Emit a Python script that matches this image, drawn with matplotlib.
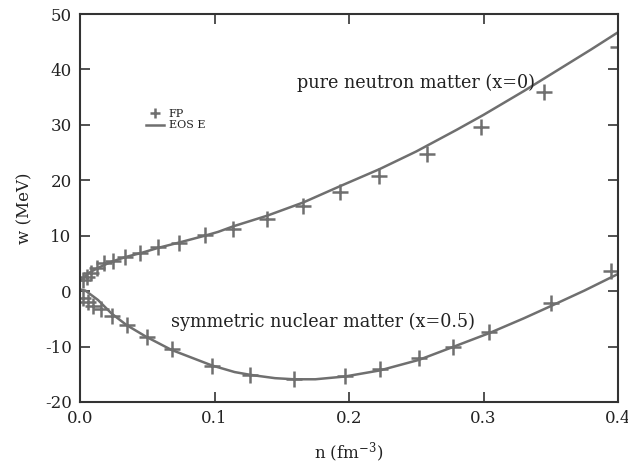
import matplotlib
matplotlib.use("Agg")
import matplotlib.pyplot as plt

# FP data: pure neutron matter
pnm_n = [0.0025, 0.005, 0.0082, 0.0124, 0.018, 0.0248, 0.0337, 0.0447, 0.0583, 0.0739,
         0.0926, 0.114, 0.139, 0.166, 0.193, 0.2226, 0.258, 0.298, 0.345, 0.4]
pnm_w = [2.0, 2.6, 3.3, 4.1, 5.0, 5.4, 6.2, 6.9, 7.9, 8.7,
         10.1, 11.2, 13.1, 15.3, 17.8, 20.8, 24.7, 29.6, 36.0, 44.1]
# FP data: symmetric nuclear matter
snm_n = [0.0025, 0.0062, 0.0099, 0.0156, 0.0236, 0.0347, 0.0496, 0.0683, 0.098, 0.1266,
         0.159, 0.197, 0.223, 0.252, 0.277, 0.304, 0.35, 0.3946]
snm_w = [-1.3, -1.9, -2.7, -3.3, -4.5, -6.1, -8.2, -10.5, -13.5, -15.2,
         -15.9, -15.3, -14.1, -12.1, -10.0, -7.3, -2.2, 3.7]

# EOS E curves
eos_pnm_n = [0.001, 0.006, 0.0134, 0.0233, 0.0345, 0.0457, 0.058, 0.0742, 0.0928, 0.1028,
             0.114, 0.139, 0.166, 0.193, 0.2226, 0.25, 0.28, 0.3, 0.33, 0.36, 0.38, 0.4]
eos_pnm_w = [2.0, 3.2, 4.2, 5.3, 6.2, 6.9, 7.8, 8.8, 10.0, 10.7,
             11.7, 13.6, 16.0, 18.9, 22.0, 25.2, 29.1, 31.8, 36.1, 40.6, 43.6, 46.7]
eos_snm_n = [0.0, 0.004, 0.0134, 0.0233, 0.0345, 0.049, 0.068, 0.098, 0.115, 0.1266,
             0.145, 0.159, 0.175, 0.197, 0.223, 0.252, 0.277, 0.304, 0.33, 0.35, 0.375, 0.4]
eos_snm_w = [0.3, 0.1, -1.6, -4.0, -6.1, -8.2, -10.6, -13.4, -14.6, -15.1,
             -15.7, -15.9, -15.9, -15.4, -14.3, -12.4, -10.1, -7.6, -4.9, -2.7, 0.1, 3.1]

xticks = [0.0, 0.1, 0.2, 0.3, 0.4]
yticks = [-20, -10, 0, 10, 20, 30, 40, 50]

gray = "#6f6f6f"
axc = "#333333"
txt = "#222222"
font = "DejaVu Serif"
plt.rcParams['font.family'] = [font]
plt.rcParams['mathtext.fontset'] = 'dejavuserif'

fig = plt.figure(figsize=(6.28, 4.70), dpi=100)
ax = fig.add_axes([80/628, 1-402/470, 538/628, 388/470])

ax.plot(eos_pnm_n, eos_pnm_w, color=gray, lw=1.8, label="EOS E", solid_joinstyle="round")
ax.plot(eos_snm_n, eos_snm_w, color=gray, lw=1.8, solid_joinstyle="round")
ax.plot(pnm_n, pnm_w, ls="none", marker="+", ms=11, mew=1.8, color=gray, label="FP")
ax.plot(snm_n, snm_w, ls="none", marker="+", ms=11, mew=1.8, color=gray)

ax.set_xlim(0, 0.4)
ax.set_ylim(-20, 50)
ax.set_xticks(xticks)
ax.set_xticklabels([f"{v:.1f}" for v in xticks])
ax.set_yticks(yticks)
ax.set_yticklabels([str(v) for v in yticks])
ax.tick_params(direction="in", length=7, width=1.2, top=True, right=True,
               labelsize=12, colors=axc, pad=6)
ax.tick_params(axis="both", labelcolor=txt)
for s in ax.spines.values():
    s.set_color(axc)
    s.set_linewidth(1.5)

ax.set_xlabel(r"n (fm$^{-3}$)", fontsize=12, color=txt, labelpad=10)
ax.set_ylabel("w (MeV)", fontsize=12, color=txt, labelpad=8)

ax.text(0.161, 37.6, "pure neutron matter (x=0)", fontsize=12.7, color=txt, va="center")
ax.text(0.068, -5.6, "symmetric nuclear matter (x=0.5)", fontsize=12.7, color=txt, va="center")

h, l = ax.get_legend_handles_labels()
leg = ax.legend([h[1], h[0]], [l[1], l[0]], loc="upper left",
                bbox_to_anchor=(0.105, 0.78), frameon=False, fontsize=8,
                handlelength=1.6, handletextpad=0.4, labelspacing=0.1,
                markerscale=0.6)
for t in leg.get_texts():
    t.set_color(txt)

fig.savefig("out.png", dpi=100)
